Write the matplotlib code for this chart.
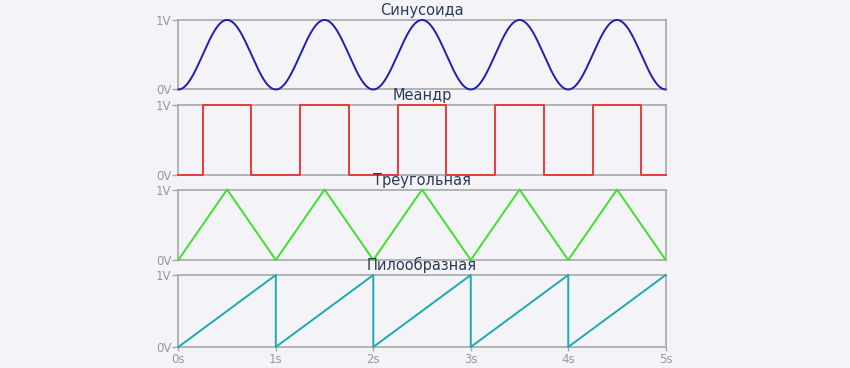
import numpy as np
import matplotlib.pyplot as plt

# временная ось и сигналы (период 1 с, 5 периодов)
t = np.linspace(0, 5, 2001)
titles = ['Синусоида', 'Меандр', 'Треугольная', 'Пилообразная']
colors = ['#1f1fb0', '#e83a3a', '#3ee02a', '#1aaab0']

t_sq = [0, 0.25, 0.25, 0.75, 0.75, 1.25, 1.25, 1.75, 1.75, 2.25, 2.25, 2.75, 2.75,
        3.25, 3.25, 3.75, 3.75, 4.25, 4.25, 4.75, 4.75, 5]
v_sq = [0, 0, 1, 1, 0, 0, 1, 1, 0, 0, 1, 1, 0, 0, 1, 1, 0, 0, 1, 1, 0, 0]
t_tri = [0, 0.5, 1, 1.5, 2, 2.5, 3, 3.5, 4, 4.5, 5]
v_tri = [0, 1, 0, 1, 0, 1, 0, 1, 0, 1, 0]
t_saw = [0, 1, 1, 2, 2, 3, 3, 4, 4, 5]
v_saw = [0, 1, 0, 1, 0, 1, 0, 1, 0, 1]

signals = [
    (t, 0.5 - 0.5 * np.cos(2 * np.pi * t)),
    (t_sq, v_sq),
    (t_tri, v_tri),
    (t_saw, v_saw),
]

bg = '#f4f4f8'
grid_c = '#a8a8a8'
fig = plt.figure(figsize=(8.5, 3.68), dpi=100, facecolor=bg)

# положения панелей (bottom, height) в долях фигуры
boxes = [(0.7568, 0.1889), (0.5245, 0.1915), (0.2935, 0.1915), (0.0571, 0.1956)]

for i, (title, col, (x, y), (b, h)) in enumerate(zip(titles, colors, signals, boxes)):
    ax = fig.add_axes([0.2098, b, 0.5734, h], facecolor=bg)
    ax.plot(x, y, color=col, lw=1.4, clip_on=False, zorder=5)
    ax.set_xlim(0, 5)
    ax.set_ylim(0, 1)
    ax.set_yticks([0, 1])
    ax.set_yticklabels(['0V', '1V'])
    for s in ax.spines.values():
        s.set_color(grid_c)
        s.set_linewidth(1.2)
    ax.tick_params(axis='y', colors=grid_c, labelcolor='#999999', length=4, width=1,
                   pad=1, labelsize=8.5)
    if i == 3:
        ax.set_xticks([0, 1, 2, 3, 4, 5])
        ax.set_xticklabels(['0s', '1s', '2s', '3s', '4s', '5s'])
        ax.tick_params(axis='x', colors=grid_c, labelcolor='#999999', length=3, width=1,
                       pad=1, labelsize=8.5)
    else:
        ax.set_xticks([])
    ax.set_title(title, fontsize=10.5, color='#2b3a55', pad=3.5)

fig.savefig('out.png', dpi=100, facecolor=bg)
